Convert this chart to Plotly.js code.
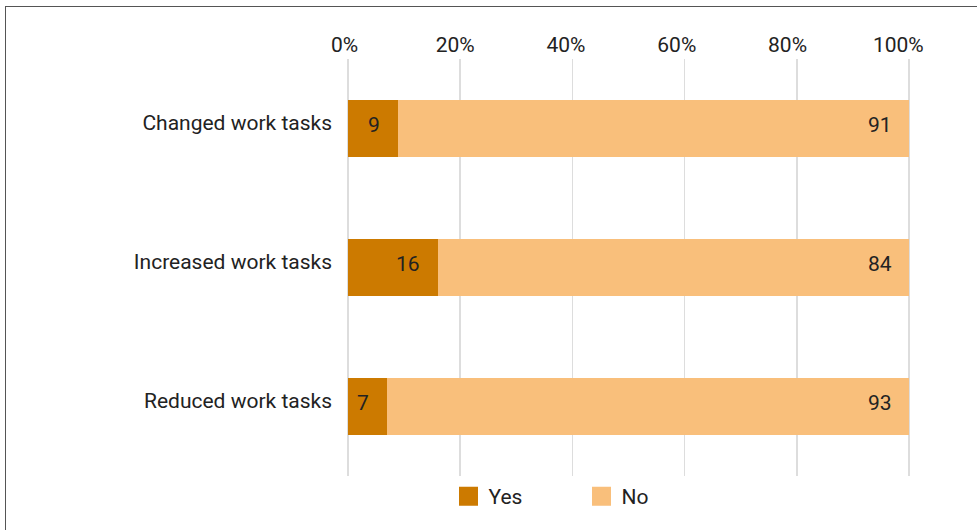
<!DOCTYPE html>
<html>
<head>
<meta charset="utf-8">
<script src="https://cdn.plot.ly/plotly-3.0.1.min.js"></script>
<style>
  html, body { margin: 0; padding: 0; background: #fff; overflow: hidden; }
  #frame { position: absolute; left: 5px; top: 6px; width: 1000px; height: 600px; border: 1px solid #555; box-sizing: border-box; }
  #chart { position: absolute; left: 0; top: 0; width: 977px; height: 530px; }
</style>
</head>
<body>
<div id="frame"></div>
<div id="chart"></div>
<script>
const categories = ["Changed work tasks", "Increased work tasks", "Reduced work tasks"];
const yesValues = [9, 16, 7];
const noValues = [91, 84, 93];
const seriesNames = ["Yes", "No"];
const seriesColors = ["#CC7A00", "#F9BF7B"];
const tickValues = [0, 20, 40, 60, 80, 100];
const tickLabels = ["0%", "20%", "40%", "60%", "80%", "100%"];

const FS = 21;
const FAM = "Roboto, 'Noto Sans', sans-serif";
const font = { family: FAM, size: FS, color: "#222" };

const traces = [
  {
    type: "bar", orientation: "h", name: seriesNames[0], showlegend: false,
    y: categories, x: yesValues, xaxis: "x", yaxis: "y",
    marker: { color: seriesColors[0] }, hoverinfo: "none"
  },
  {
    type: "bar", orientation: "h", name: seriesNames[1], showlegend: false,
    y: categories, x: noValues, xaxis: "x", yaxis: "y",
    marker: { color: seriesColors[1] }, hoverinfo: "none"
  }
];
// legend entries (square swatches), also carry the tick-label axis
seriesNames.forEach((n, i) => {
  traces.push({
    type: "scatter", mode: "markers", name: n, x: [null], y: [null], xaxis: "x2", yaxis: "y",
    marker: { symbol: "square", size: 16, color: seriesColors[i], line: { color: seriesColors[i], width: 3 } },
    hoverinfo: "none", showlegend: true
  });
});

const annotations = [];
categories.forEach((c, i) => {
  annotations.push({
    x: yesValues[i], y: c, xref: "x", yref: "y",
    text: String(yesValues[i]), showarrow: false, xanchor: "right", xshift: -16, yshift: 4,
    font: { family: FAM, size: FS, color: "#222" }
  });
  annotations.push({
    x: yesValues[i] + noValues[i], y: c, xref: "x", yref: "y",
    text: String(noValues[i]), showarrow: false, xanchor: "right", xshift: -15, yshift: 4,
    font: { family: FAM, size: FS, color: "#222" }
  });
});

const layout = {
  width: 977, height: 530,
  paper_bgcolor: "rgba(0,0,0,0)", plot_bgcolor: "rgba(0,0,0,0)",
  font: font,
  barmode: "stack", bargap: 0.595,
  margin: { l: 334, r: 57, t: 59, b: 54, pad: 0, autoexpand: false },
  xaxis: {
    side: "top", range: [-2.4955, 101.961], tickvals: tickValues, showticklabels: false,
    showgrid: true, gridcolor: "#DDDDDD", gridwidth: 1.5,
    zeroline: false, showline: false, ticks: "", fixedrange: true
  },
  xaxis2: {
    overlaying: "x", anchor: "y", side: "top", range: [-1.896, 103.918],
    tickvals: tickValues, ticktext: tickLabels, showgrid: false,
    zeroline: false, showline: false, ticks: "", ticklen: 0, ticklabelstandoff: 2,
    tickfont: font, fixedrange: true
  },
  yaxis: {
    autorange: "reversed", showgrid: false, zeroline: false, showline: false,
    ticks: "", tickfont: font, ticklabelstandoff: 1, ticklabelshift: 6, fixedrange: true
  },
  annotations: annotations,
  showlegend: true,
  legend: {
    orientation: "h", x: 0.1954, xanchor: "left", y: 0.0, yanchor: "top",
    font: font, itemwidth: 30, traceorder: "normal", entrywidth: 88, entrywidthmode: "pixels"
  }
};

Plotly.newPlot("chart", traces, layout, { displayModeBar: false, staticPlot: true });
</script>
</body>
</html>
